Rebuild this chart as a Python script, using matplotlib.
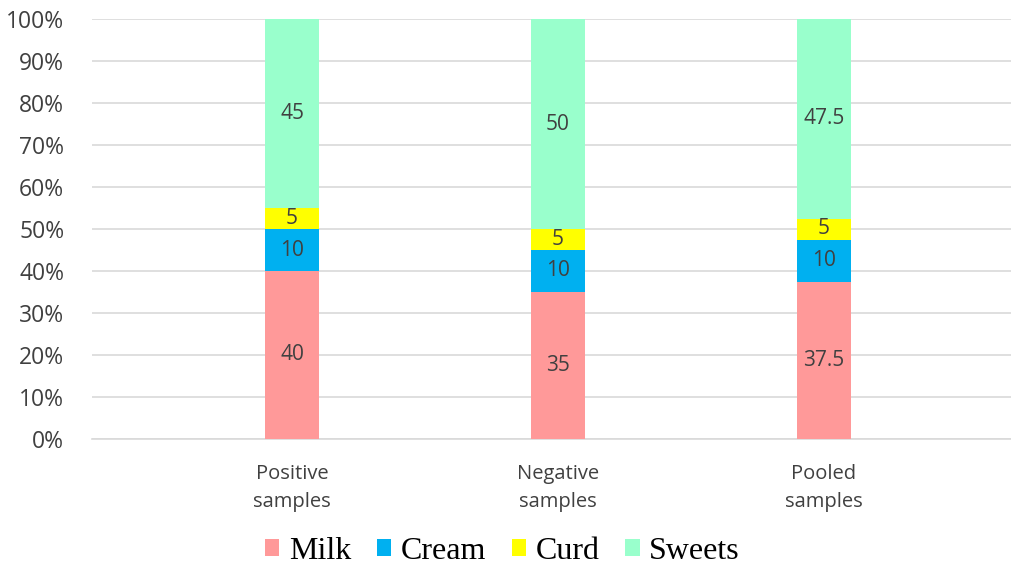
import numpy as np
import matplotlib.pyplot as plt
from matplotlib.patches import Patch
from matplotlib.ticker import PercentFormatter

# Share of each food type (%) per sample group
groups = ["Positive\nsamples", "Negative\nsamples", "Pooled\nsamples"]
foods = ["Milk", "Cream", "Curd", "Sweets"]
milk = [40, 35, 37.5]
cream = [10, 10, 10]
curd = [5, 5, 5]
sweets = [45, 50, 47.5]
colors = ["#FF9999", "#00B0F0", "#FFFF00", "#99FFCC"]

series = [milk, cream, curd, sweets]

fig = plt.figure(figsize=(10.11, 5.65), dpi=100)
ax = fig.add_axes([92 / 1011, 1 - 439 / 565, 1 - 92 / 1011, 420 / 565])

x = np.arange(len(groups))
bottom = np.zeros(len(groups))
for vals, col in zip(series, colors):
    vals = np.array(vals, dtype=float)
    ax.bar(x, vals, width=0.2, bottom=bottom, color=col, zorder=3)
    for xi, b, v in zip(x, bottom, vals):
        ax.text(xi, b + v / 2, f"{v:g}", ha="center", va="center",
                fontsize=15, color="#404040", family="Open Sans", zorder=4)
    bottom += vals

ax.set_xlim(-0.752, 2.703)
ax.set_ylim(0, 100)
ax.set_yticks(np.arange(0, 101, 10))
ax.yaxis.set_major_formatter(PercentFormatter(decimals=0))
ax.set_xticks(x)
ax.set_xticklabels(groups, linespacing=1.5)
for lbl in ax.get_yticklabels():
    lbl.set_family("Open Sans")
    lbl.set_fontsize(16.5)
    lbl.set_color("#404040")
for lbl in ax.get_xticklabels():
    lbl.set_family("Open Sans")
    lbl.set_fontsize(14.5)
    lbl.set_color("#404040")

ax.grid(axis="y", color="#D9D9D9", linewidth=1.2, zorder=0)
ax.tick_params(length=0)
ax.tick_params(axis="y", pad=20)
ax.tick_params(axis="x", pad=18)
for side in ["left", "right", "top"]:
    ax.spines[side].set_visible(False)
ax.spines["bottom"].set_color("#D9D9D9")
ax.spines["bottom"].set_linewidth(1.2)

handles = [Patch(facecolor=c, edgecolor="none", label=f) for f, c in zip(foods, colors)]
fig.legend(handles=handles, loc="lower center", bbox_to_anchor=(0.497, -0.053),
           ncol=4, frameon=False, prop={"family": "Liberation Serif", "size": 23},
           handlelength=0.45, handleheight=0.45, handletextpad=0.3,
           columnspacing=0.8)

fig.savefig("out.png", dpi=100)
